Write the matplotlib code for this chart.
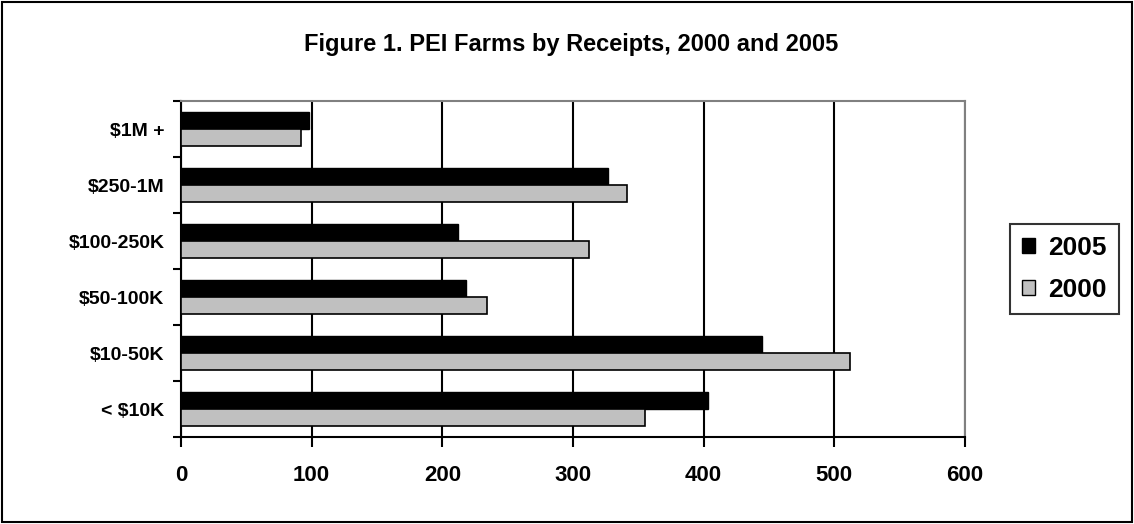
import numpy as np
import matplotlib
matplotlib.use("Agg")
import matplotlib.pyplot as plt
from matplotlib.patches import Rectangle, Patch

plt.rcParams['font.family'] = ['Liberation Sans', 'DejaVu Sans']
plt.rcParams['font.weight'] = 'bold'

categories = ['< $10K', '$10-50K', '$50-100K', '$100-250K', '$250-1M', '$1M +']
farms_2005 = [403, 445, 218, 212, 327, 98]
farms_2000 = [355, 512, 234, 312, 341, 92]
x_ticks = [0, 100, 200, 300, 400, 500, 600]

W, H = 1134, 524
fig = plt.figure(figsize=(W / 100, H / 100), dpi=100)

# outer frame around the whole chart
fig.patches.append(Rectangle((2 / W, 2 / H), 1 - 4 / W, 1 - 4 / H, transform=fig.transFigure,
                             fill=False, edgecolor='black', linewidth=1.5))

ax = fig.add_axes([181 / W, (H - 437) / H, (965 - 181) / W, (437 - 101) / H])

y = np.arange(len(categories))
h = 0.3
ax.barh(y + h / 2, farms_2005, height=h, color='black', edgecolor='black', linewidth=1, zorder=3)
ax.barh(y - h / 2, farms_2000, height=h, color='#C0C0C0', edgecolor='black', linewidth=1.2, zorder=3)

ax.set_xlim(0, 600)
ax.set_ylim(-0.5, len(categories) - 0.5)
ax.set_xticks(x_ticks)
ax.set_xticklabels([str(v) for v in x_ticks], fontsize=16, fontweight='bold')
ax.set_yticks(y)
ax.set_yticklabels(categories, fontsize=14, fontweight='bold')
ax.set_yticks(np.arange(len(categories) + 1) - 0.5, minor=True)

ax.tick_params(axis='y', which='major', length=0, pad=12)
ax.tick_params(axis='y', which='minor', length=6, width=1.5, direction='out')
ax.tick_params(axis='x', length=7, width=1.5, direction='out', pad=13)

ax.grid(axis='x', color='black', linewidth=1.5, zorder=0)
for side in ['top', 'right']:
    ax.spines[side].set_color('#808080')
    ax.spines[side].set_linewidth(1.5)
for side in ['left', 'bottom']:
    ax.spines[side].set_color('black')
    ax.spines[side].set_linewidth(1.5)

fig.text(571 / W, 1 - 45 / H, 'Figure 1. PEI Farms by Receipts, 2000 and 2005',
         ha='center', va='center', fontsize=17, fontweight='bold')

handles = [Patch(facecolor='black', edgecolor='black', label='2005'),
           Patch(facecolor='#C0C0C0', edgecolor='black', label='2000')]
leg = fig.legend(handles=handles, loc='center left', bbox_to_anchor=(1010 / W, 1 - 269 / H),
                 prop={'size': 19, 'weight': 'bold'}, frameon=True, fancybox=False,
                 edgecolor='black', handlelength=0.5, handleheight=0.5, handletextpad=0.5,
                 borderpad=0.45, labelspacing=0.7, borderaxespad=0)
leg.get_frame().set_linewidth(1.5)

fig.savefig('out.png', dpi=100)
